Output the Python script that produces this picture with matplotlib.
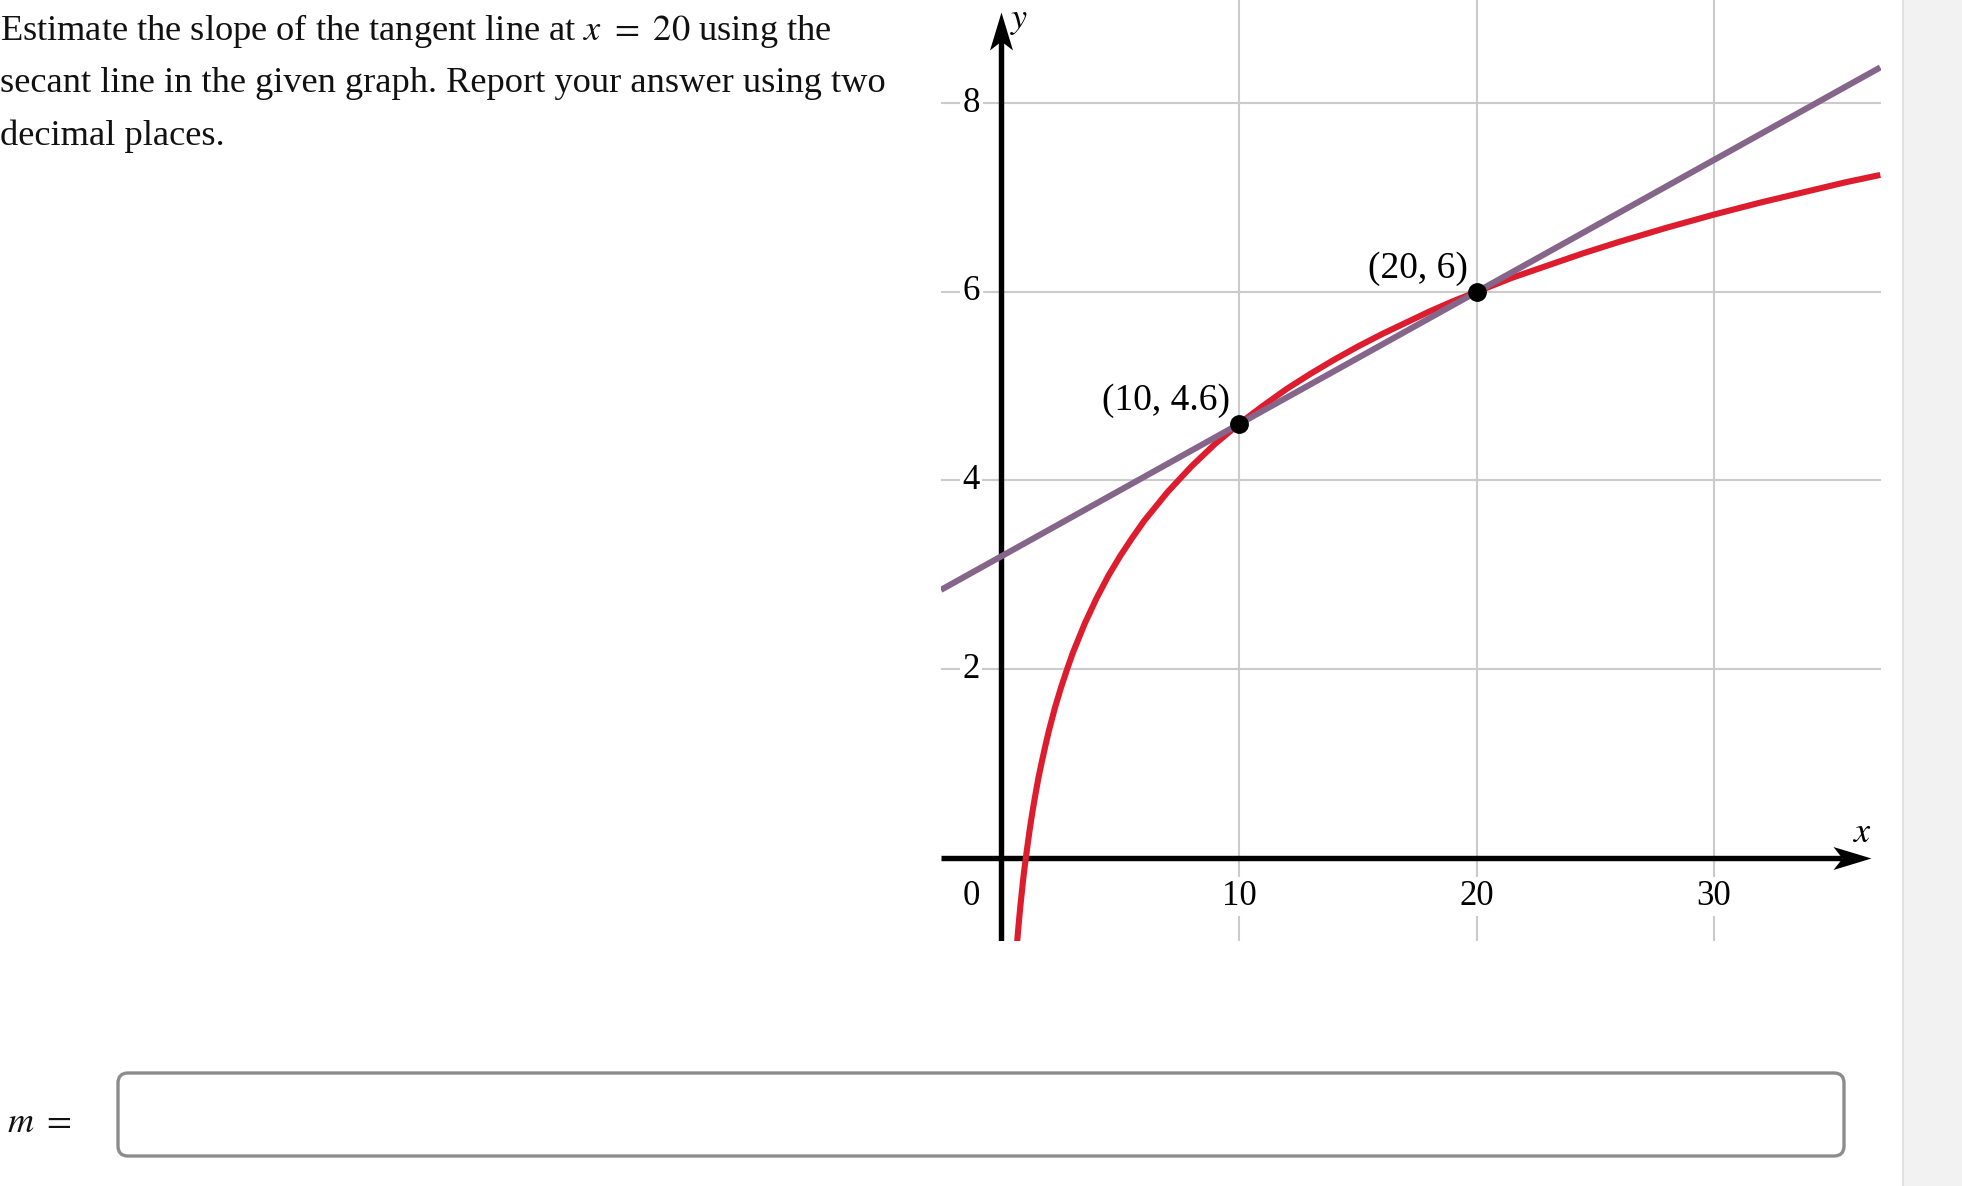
import matplotlib
matplotlib.use("Agg")
import matplotlib.pyplot as plt
from matplotlib.patches import FancyBboxPatch, Rectangle

plt.rcParams['font.family'] = ['Liberation Serif', 'DejaVu Serif']
plt.rcParams['mathtext.fontset'] = 'stix'

# ---- data ----
curve_x = [0.62, 0.66, 0.70, 0.75, 0.80, 0.85, 0.90, 0.95, 1.0, 1.1, 1.2, 1.3, 1.4, 1.55,
           1.7, 1.85, 2.0, 2.25, 2.5, 2.75, 3.0, 3.5, 4.0, 4.5, 5.0, 5.5, 6.0, 7.0, 8.0,
           9.0, 10.0, 11.0, 12.0, 13.0, 14.0, 15.0, 16.0, 17.0, 18.0, 19.0, 20.0, 21.5,
           23.0, 24.5, 26.0, 28.0, 30.0, 32.0, 34.0, 35.5, 37.0]
curve_y = [-1.02, -0.89, -0.77, -0.63, -0.50, -0.38, -0.26, -0.15, -0.05, 0.14, 0.32, 0.48,
           0.63, 0.84, 1.02, 1.19, 1.35, 1.59, 1.80, 1.99, 2.17, 2.48, 2.75, 2.99, 3.20, 3.39,
           3.57, 3.88, 4.15, 4.39, 4.60, 4.79, 4.97, 5.13, 5.28, 5.42, 5.55, 5.67, 5.79, 5.90,
           6.00, 6.15, 6.28, 6.41, 6.53, 6.68, 6.82, 6.95, 7.07, 7.16, 7.24]
secant_x = [-2.55, 37.0]
secant_y = [2.84, 8.38]
point_x = [10, 20]
point_y = [4.6, 6]
point_labels = ["(10, 4.6)", "(20, 6)"]
x_ticks = [10, 20, 30]
y_ticks = [2, 4, 6, 8]
question_lines = ["Estimate the slope of the tangent line at $x\\ =\\ 20$ using the",
                  "secant line in the given graph. Report your answer using two",
                  "decimal places."]

W, H = 1962, 1186
fig = plt.figure(figsize=(W / 100, H / 100), dpi=100)

# ---- page overlay in pixel coordinates ----
bg = fig.add_axes([0, 0, 1, 1], zorder=0)
bg.set_xlim(0, W)
bg.set_ylim(H, 0)
bg.axis('off')
bg.add_patch(Rectangle((1902, 0), 60, H, facecolor='#f2f2f2', edgecolor='none'))
bg.plot([1902.5, 1902.5], [0, H], color='#dedede', lw=1.2)
for i, line in enumerate(question_lines):
    bg.text(0, 40 + i * 52.5, line, fontsize=26.2, va='baseline', ha='left', color='#111111')
bg.text(7, 1123, "$m\\ =$", fontsize=26, va='center', ha='left', color='#111111')
bg.add_patch(FancyBboxPatch((118, 1073), 1726, 83,
                            boxstyle="round,pad=0,rounding_size=10",
                            facecolor='white', edgecolor='#8c8c8c', lw=2.4))

# ---- graph ----
ax = fig.add_axes([941 / W, 245 / H, 940 / W, 941 / H], zorder=1)
ax.patch.set_alpha(0)
xmin, xmax = -2.547, 37.03
ymin, ymax = -0.883, 9.095
ax.set_xlim(xmin, xmax)
ax.set_ylim(ymin, ymax)
for s in ax.spines.values():
    s.set_visible(False)
ax.set_xticks([])
ax.set_yticks([])

grid_c = '#cbcbcb'
for xv in x_ticks:
    ax.axvline(xv, color=grid_c, lw=1.5, zorder=1)
for yv in y_ticks:
    ax.axhline(yv, color=grid_c, lw=1.5, zorder=1)

# axes with arrows
x_tip, y_tip = 36.6, 8.97
ax.plot([xmin, x_tip - 1.2], [0, 0], color='black', lw=3.9, zorder=3, solid_capstyle='butt')
ax.plot([0, 0], [ymin, y_tip - 0.3], color='black', lw=3.9, zorder=3, solid_capstyle='butt')
arrow_r = [(0, 0), (-38, 11.5), (-29, 0), (-38, -11.5), (0, 0)]
arrow_u = [(-y, x) for (x, y) in arrow_r]
ax.plot([x_tip], [0], marker=arrow_r, markersize=54.7, color='black', mec='none', zorder=4, clip_on=False)
ax.plot([0], [y_tip], marker=arrow_u, markersize=54.7, color='black', mec='none', zorder=4, clip_on=False)
ax.text(36.25, 0.26, "$x$", fontsize=26, ha='center', va='center', zorder=5)
ax.text(0.75, 8.88, "$y$", fontsize=26, ha='center', va='center', zorder=5, clip_on=False)

# tick labels with white background
bb = dict(facecolor='white', edgecolor='none', pad=2)
for yv in y_ticks:
    ax.text(-1.28, yv, str(yv), fontsize=25, ha='center', va='center', bbox=bb, zorder=2)
for xv in x_ticks:
    ax.text(xv, -0.41, str(xv), fontsize=25, ha='center', va='center', bbox=bb, zorder=2)
ax.text(-1.28, -0.41, "0", fontsize=25, ha='center', va='center', bbox=bb, zorder=2)

# curves
ax.plot(curve_x, curve_y, color='#dd1c2e', lw=4.4, zorder=5, solid_capstyle='butt',
        solid_joinstyle='round')
ax.plot(secant_x, secant_y, color='#86658a', lw=4.4, zorder=6, solid_capstyle='butt')
ax.plot(point_x, point_y, 'o', color='black', markersize=12.5, zorder=7)
for px, py, lab in zip(point_x, point_y, point_labels):
    ax.annotate(lab, (px, py), xytext=(-6.5, 17), textcoords='offset points',
                fontsize=27, ha='right', va='center', zorder=8)

fig.savefig("out.png", dpi=100)
